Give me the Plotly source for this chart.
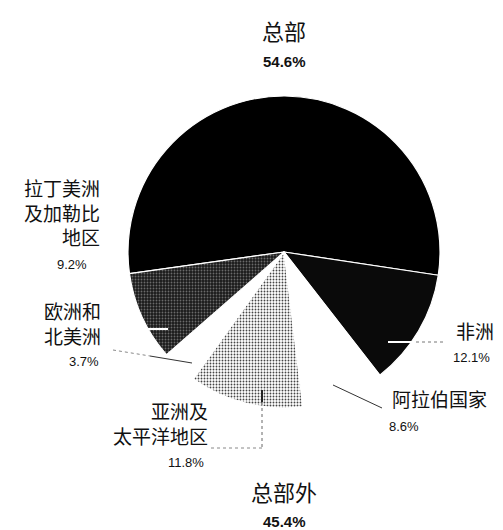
import plotly.graph_objects as go

# page body has an 8px margin: lay out in reference pixels, shifted by OFF
OFF = 8
W, H = 503 - OFF, 530 - OFF

# ---- data ----
categories = ["总部", "非洲", "阿拉伯国家", "亚洲及太平洋地区", "欧洲和北美洲", "拉丁美洲及加勒比地区"]
shares = [54.6, 12.1, 8.6, 11.8, 3.7, 9.2]
group_names = ["总部", "总部外"]
group_shares = [54.6, 45.4]
label_lines = {
    "非洲": ["非洲"],
    "阿拉伯国家": ["阿拉伯国家"],
    "亚洲及太平洋地区": ["亚洲及", "太平洋地区"],
    "欧洲和北美洲": ["欧洲和", "北美洲"],
    "拉丁美洲及加勒比地区": ["拉丁美洲", "及加勒比", "地区"],
}

fills = ["#000000", "#0a0a0a", "#ffffff", "#ffffff", "#ffffff", "#2a2a2a"]
pattern_shapes = ["", "", "", ".", "", "."]
pattern_fg = ["#000", "#000", "#000", "#444444", "#000", "#6a6a6a"]
pattern_bg = ["#000", "#0a0a0a", "#fff", "#ffffff", "#fff", "#1a1a1a"]

def px(x, y):
    return (x - OFF) / W, 1 - (y - OFF) / H

cx, cy, r = 284, 252, 156
x0, y1 = px(cx - r, cy - r)
x1, y0 = px(cx + r, cy + r)

fig = go.Figure(go.Pie(
    labels=categories,
    values=shares,
    sort=False,
    direction="clockwise",
    rotation=262,
    textinfo="none",
    hoverinfo="label+percent",
    marker=dict(
        colors=fills,
        line=dict(color="white", width=1.2),
        pattern=dict(shape=pattern_shapes, fgcolor=pattern_fg, bgcolor=pattern_bg,
                     size=3, solidity=0.3, fillmode="replace"),
    ),
    domain=dict(x=[x0, x1], y=[y0, y1]),
    showlegend=False,
))

CJK = "Noto Sans CJK SC"
LAT = "Liberation Sans, Arial, sans-serif"
ann = []

def text(x, y, s, size, font=CJK, anchor="center", bold=False):
    xp, yp = px(x, y)
    ann.append(dict(x=xp, y=yp, xref="paper", yref="paper", text=(f"<b>{s}</b>" if bold else s),
                    showarrow=False, xanchor=anchor, yanchor="middle", align=anchor if anchor != "center" else "center",
                    borderpad=0,
                    font=dict(family=font, size=size, color="#111")))

# group headings
text(284, 30, group_names[0], 22)
text(284, 62, f"{group_shares[0]}%", 15, LAT, bold=True)
text(284, 491, group_names[1], 22)
text(284, 521, f"{group_shares[1]}%", 15, LAT, bold=True)

pct = dict(zip(categories, shares))

text(101, 212, "<br>".join(label_lines["拉丁美洲及加勒比地区"]), 19, anchor="right")
text(72, 265, f"{pct['拉丁美洲及加勒比地区']}%", 13, LAT)
text(102, 323, "<br>".join(label_lines["欧洲和北美洲"]), 19, anchor="right")
text(84, 361, f"{pct['欧洲和北美洲']}%", 13, LAT)
text(209, 423, "<br>".join(label_lines["亚洲及太平洋地区"]), 19, anchor="right")
text(186, 462, f"{pct['亚洲及太平洋地区']}%", 13, LAT)
text(455, 330, label_lines["非洲"][0], 19, anchor="left")
text(471, 357, f"{pct['非洲']}%", 13, LAT)
text(391, 398, label_lines["阿拉伯国家"][0], 19, anchor="left")
text(404, 426, f"{pct['阿拉伯国家']}%", 13, LAT)

shapes = []

def seg(xa, ya, xb, yb, color="#333", width=1, dash="solid"):
    a = px(xa, ya); b = px(xb, yb)
    shapes.append(dict(type="line", xref="paper", yref="paper", x0=a[0], y0=a[1], x1=b[0], y1=b[1],
                       line=dict(color=color, width=width, dash=dash)))

# leader lines
seg(388, 342, 413, 342, "white", 2)
seg(416, 342, 443, 342, "#777", 1, "dot")
seg(333, 385, 382, 408, "#333", 1)
seg(262, 390, 262, 402, "#222", 2)
seg(262, 402, 262, 448, "#666", 1, "dot")
seg(262, 448, 208, 448, "#888", 1, "dot")
seg(113, 350, 150, 356, "#888", 1, "dot")
seg(150, 356, 192, 363, "#333", 1)
seg(148, 329, 168, 329, "white", 2)

fig.update_layout(
    width=W, height=H,
    margin=dict(l=0, r=0, t=0, b=0),
    paper_bgcolor="white", plot_bgcolor="white",
    annotations=ann, shapes=shapes,
)
fig.write_html("out.html")
